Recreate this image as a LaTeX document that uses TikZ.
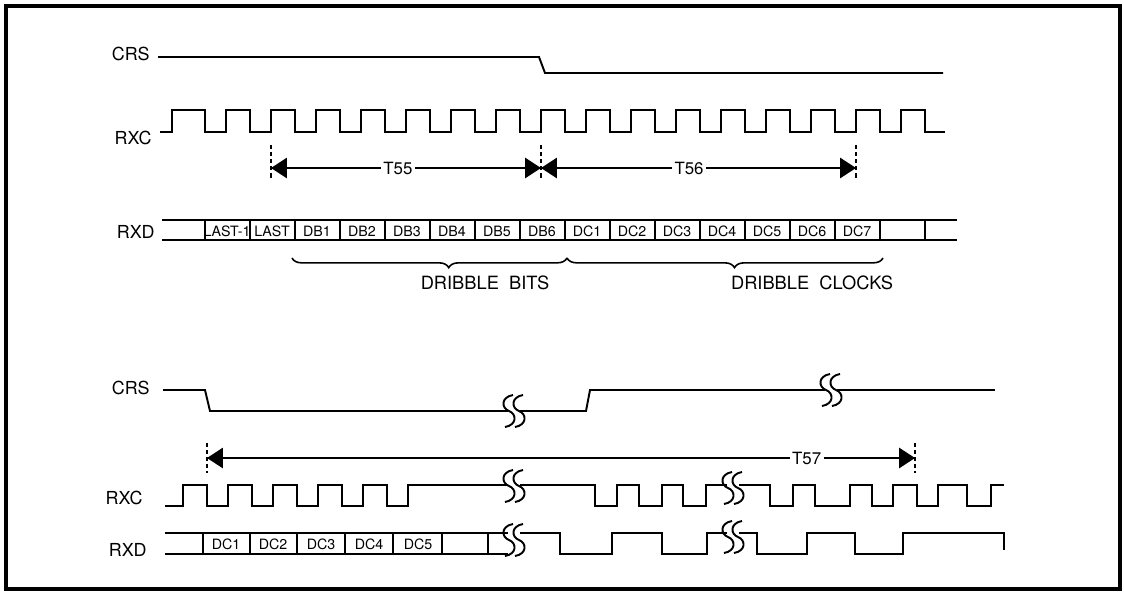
\documentclass[tikz,border=0pt]{standalone}
\usepackage{fontspec}
\setmainfont{TeX Gyre Heros}
\usetikzlibrary{arrows.meta,decorations.pathreplacing}
\begin{document}
\begin{tikzpicture}[x=0.02cm,y=-0.02cm,
  sigline/.style={line width=1.1pt},
  busline/.style={line width=0.9pt},
  siglabel/.style={anchor=east,inner sep=0pt,font=\fontsize{10.2}{12}\selectfont},
  celltext/.style={inner sep=0pt,font=\fontsize{8.1}{9}\selectfont},
  captext/.style={inner sep=0pt,font=\fontsize{10.4}{12}\selectfont},
  dashmark/.style={line width=1pt,dash pattern=on 2.5pt off 1.5pt},
  spanarrow/.style={line width=0.9pt,arrows={Triangle[length=9pt,width=11.5pt]-Triangle[length=9pt,width=11.5pt]}},
  spantext/.style={fill=white,inner sep=1.5pt,font=\fontsize{9.6}{11}\selectfont},
  breakmark/.pic={
    \foreach \d in {-5,5}
      \draw[line width=1.1pt] (\d+4,-16) .. controls (\d-8,-14) and (\d-8,-3) .. (\d,0)
        .. controls (\d+8,3) and (\d+8,14) .. (\d-4,16);
  }]
\useasboundingbox (0,0) rectangle (1124,592);
\draw[line width=2pt] (6,6) rectangle (1120,589);

\node[siglabel] (crsA) at (150,54) {CRS};
\draw[sigline] (158,57) -- (539,57) -- (545,73) -- (943,73);

\node[siglabel] (rxcA) at (152,138) {RXC};
\draw[sigline] (160,132) -- (172,132) |- (205,110) -- (205,132)
  \foreach \k in {0,...,15} { -- ({226+45*\k},132) |- ({250+45*\k},110) -- ({250+45*\k},132) }
  -- (945,132);

\coordinate (t1a) at (271,145);
\coordinate (t1b) at (271,178);
\coordinate (t2a) at (541,145);
\coordinate (t2b) at (541,178);
\coordinate (t3a) at (856,145);
\coordinate (t3b) at (856,178);
\draw[dashmark] (t1a) -- (t1b);
\draw[dashmark] (t2a) -- (t2b);
\draw[dashmark] (t3a) -- (t3b);
\coordinate (s1) at (271,168);
\coordinate (s2) at (541,168);
\coordinate (s3) at (856,168);
\draw[spanarrow] (s1) -- node[spantext,pos=0.47] (tfive) {T55} (s2);
\draw[spanarrow] (s2) -- node[spantext,pos=0.47] (tsix) {T56} (s3);

\node[siglabel] (rxdA) at (155,232) {RXD};
\draw[busline] (162,220) -- (957,220);
\draw[busline] (162,240) -- (957,240);
\foreach \k in {0,...,16}
  \draw[busline] ({205+45*\k},220) -- ({205+45*\k},240);
\foreach \t [count=\i from 0] in {LAST-1,LAST,DB1,DB2,DB3,DB4,DB5,DB6,DC1,DC2,DC3,DC4,DC5,DC6,DC7}
  \node[celltext] (cell\i) at ({227+45*\i},231) {\t};

\draw[busline,decorate,decoration={brace,mirror,amplitude=5.5pt,aspect=0.57}] (292,258) -- (567,258);
\draw[busline,decorate,decoration={brace,mirror,amplitude=5.5pt,aspect=0.53}] (567,258) -- (883,258);
\node[captext] (bits) at (485,283) {DRIBBLE\ \ BITS};
\node[captext] (clocks) at (812,283) {DRIBBLE\ \ CLOCKS};

\node[siglabel] (crsB) at (150,388) {CRS};
\draw[sigline] (163,390) -- (205,390) -- (210,411) -- (508,411);
\pic at (514,411) {breakmark};
\draw[sigline] (520,411) -- (586,411) -- (590,390) -- (825,390);
\pic at (831,390) {breakmark};
\draw[sigline] (837,390) -- (995,390);

\coordinate (u1a) at (207,443);
\coordinate (u1b) at (207,473);
\coordinate (u2a) at (915,443);
\coordinate (u2b) at (915,473);
\draw[dashmark] (u1a) -- (u1b);
\draw[dashmark] (u2a) -- (u2b);
\coordinate (v1) at (207,458);
\coordinate (v2) at (915,458);
\draw[spanarrow] (v1) -- node[spantext,pos=0.847] (tseven) {T57} (v2);

\node[siglabel] (rxcB) at (143,498) {RXC};
\draw[sigline] (165,506)
  \foreach \k in {0,...,4} { -- ({183+45*\k},506) |- ({207+45*\k},485) -- ({207+45*\k},506) }
  -- (408,506) |- (508,485);
\pic at (514,486) {breakmark};
\draw[sigline] (520,485) -| (595,506) -| (617,485) -| (639,506) -| (662,485) -| (683,506) -| (706,485) -- (727,485);
\pic at (733,488) {breakmark};
\draw[sigline] (739,485) -| (770,506) -| (793,485) -| (815,506) -| (850,485) -| (872,506) -| (893,485)
  -| (917,506) -| (938,485) -| (967,506) -| (991,485) -- (1004,485);

\node[siglabel] (rxdB) at (147,550) {RXD};
\draw[busline] (165,533) -- (508,533);
\draw[busline] (165,554) -- (508,554);
\foreach \x in {203,250,297,345,393,442,488}
  \draw[busline] (\x,533) -- (\x,554);
\foreach \t/\x in {DC1/226,DC2/273,DC3/321,DC4/369,DC5/418}
  \node[celltext] (low\t) at (\x,544) {\t};
\pic at (514,540) {breakmark};
\draw[sigline] (520,533) -| (560,554) -| (612,533) -| (662,554) -| (707,533) -- (727,533);
\pic at (733,537) {breakmark};
\draw[sigline] (739,533) -| (757,554) -| (807,533) -| (855,554) -| (903,533) -| (1004,550);
\end{tikzpicture}
\end{document}
